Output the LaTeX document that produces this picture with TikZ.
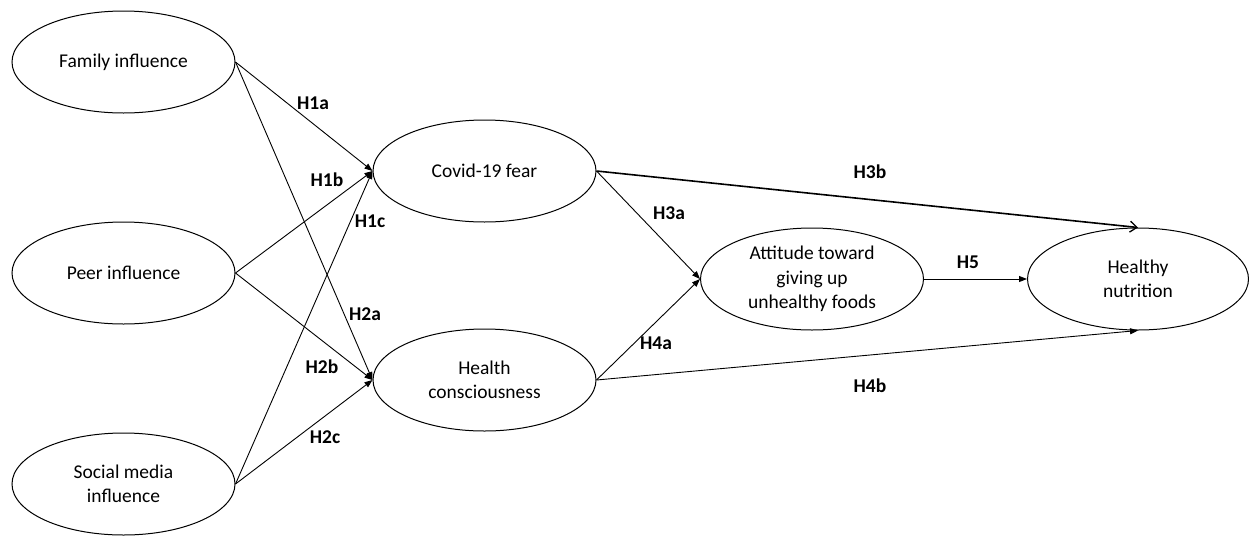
\documentclass[tikz,border=0pt]{standalone}
\usepackage{fontspec}
\setmainfont{Carlito}
\usetikzlibrary{shapes.geometric,arrows.meta}
\begin{document}
\begin{tikzpicture}[x=1pt,y=-1pt,
  construct/.style={ellipse,draw,line width=1pt,minimum width=223pt,minimum height=102pt,inner sep=0pt,align=center,font=\fontsize{19.5}{24.5}\selectfont},
  path/.style={line width=0.9pt,-{Triangle[length=8pt,width=6pt]}},
  thickpath/.style={line width=1.6pt,-{Straight Barb[length=7pt,width=11pt,line width=1.3pt]}},
  hlab/.style={font=\bfseries\fontsize{19.5}{24.5}\selectfont,inner sep=0pt}]
\useasboundingbox (0,0) rectangle (1249,536);
\node[construct] (fam) at (123.5,62) {Family influence};
\node[construct] (peer) at (123.5,273) {Peer influence};
\node[construct] (soc) at (123.5,484) {Social media\\influence};
\node[construct] (cov) at (484.5,171) {Covid-19 fear};
\node[construct] (hc) at (484.5,380) {Health\\consciousness};
\node[construct] (att) at (812,279) {Attitude toward\\giving up\\unhealthy foods};
\node[construct,minimum width=221pt] (hn) at (1138,279) {Healthy\\nutrition};
\draw[path] (fam.east) -- (cov.west);
\draw[path] (fam.east) -- (hc.west);
\draw[path] (peer.east) -- (cov.west);
\draw[path] (peer.east) -- (hc.west);
\draw[path] (soc.east) -- (cov.west);
\draw[path] (soc.east) -- (hc.west);
\draw[path] (cov.east) -- (att.west);
\draw[path] (hc.east) -- (att.west);
\draw[thickpath] (cov.east) -- (hn.north);
\draw[path] (hc.east) -- (hn.south);
\draw[path] (att.east) -- (hn.west);
\node[hlab] (l1a) at (313,103) {H1a};
\node[hlab] (l1b) at (327,180) {H1b};
\node[hlab] (l1c) at (370,221) {H1c};
\node[hlab] (l2a) at (365,314) {H2a};
\node[hlab] (l2b) at (322,367) {H2b};
\node[hlab] (l2c) at (325,437) {H2c};
\node[hlab] (l3a) at (669,213) {H3a};
\node[hlab] (l3b) at (870,172) {H3b};
\node[hlab] (l4a) at (656,343) {H4a};
\node[hlab] (l4b) at (870,386) {H4b};
\node[hlab] (l5) at (968,262) {H5};
\end{tikzpicture}
\end{document}
